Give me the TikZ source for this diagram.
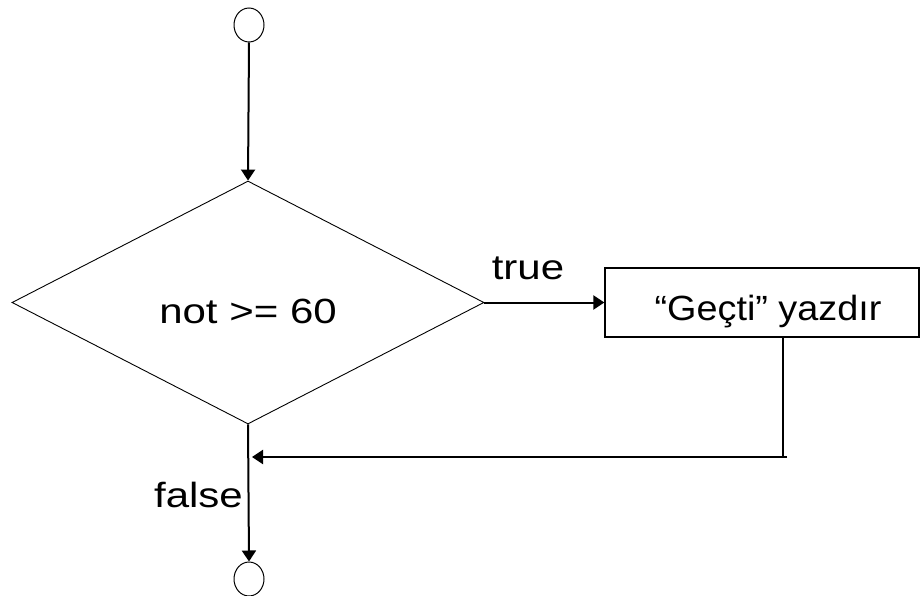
\documentclass[tikz,border=0pt]{standalone}
\usepackage{fontspec}
\setmainfont{Liberation Sans}[FakeStretch=1.2]
\newfontfamily\boxfont{Liberation Sans}[FakeStretch=1.08]
\usetikzlibrary{shapes.geometric,arrows.meta}

\tikzset{
  terminal/.style={ellipse, draw, line width=1pt, minimum width=30pt, minimum height=34pt, inner sep=0pt},
  decision/.style={diamond, draw, line width=0.9pt, minimum width=472pt, minimum height=243pt, inner sep=0pt},
  action/.style={rectangle, draw, line width=1.2pt, minimum width=314pt, minimum height=69pt, inner sep=0pt},
  flow/.style={line width=2pt, -{Triangle[length=11pt,width=14pt]}},
  plain/.style={line width=1.6pt},
  label/.style={font=\fontsize{35}{40}\selectfont, inner sep=0pt}
}

\begin{document}
\begin{tikzpicture}[x=1pt, y=-1pt]
  \useasboundingbox (0,0) rectangle (920,596);
  \clip (0,0) rectangle (920,596);

  % start and end terminals
  \node[terminal] (start) at (249,25) {};
  \node[terminal] (stop) at (249,579) {};

  % decision
  \node[decision] (dec) at (248,302.5) {};
  \node[label, anchor=base] (dectext) at (248,323) {not >= 60};

  % action box
  \node[action] (print) at (762,302.5) {};
  \node[label, anchor=base, font=\boxfont\fontsize{35}{40}\selectfont] (printtext) at (768,320) {“Geçti” yazdır};

  % junction points
  \coordinate (corner) at (783,457);
  \coordinate (joinpt) at (252,457);

  % connectors
  \draw[flow] (start.south) -- (dec.north);
  \draw[flow] (dec.east) -- (print.west);
  \node[label, anchor=base] (truelbl) at (528,279) {true};
  \draw[plain] (print.south -| corner) -- (corner);
  \draw[flow] ([xshift=4pt]corner) -- (joinpt);
  \draw[flow] (dec.south) -- (stop.north);
  \node[label, anchor=base east] (falselbl) at (243,507) {false};
\end{tikzpicture}
\end{document}
